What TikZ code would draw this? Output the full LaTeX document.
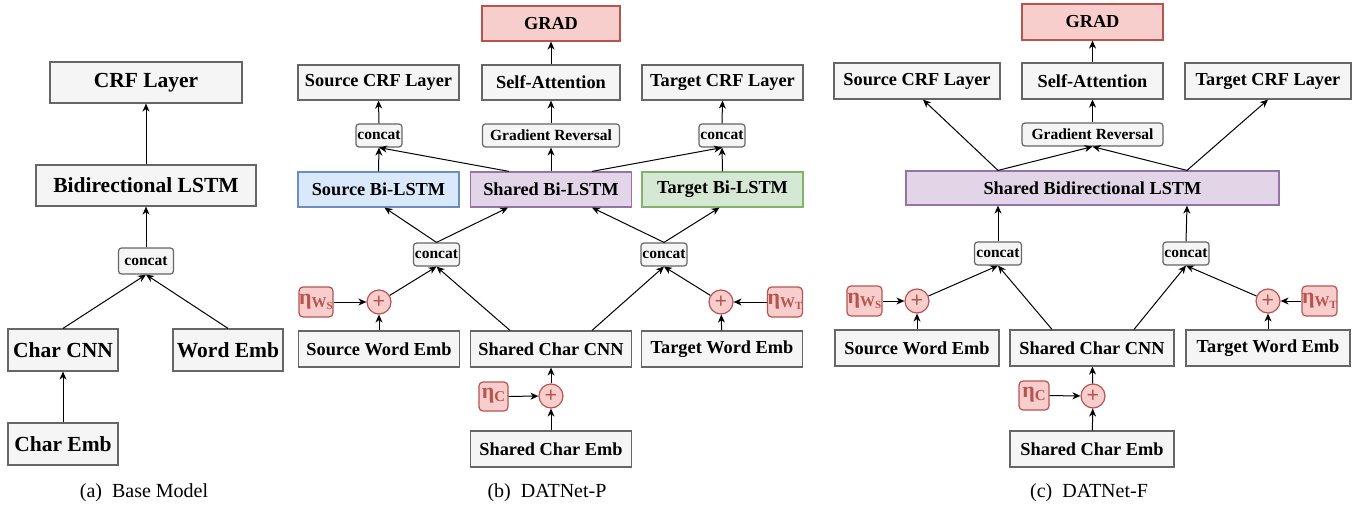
\documentclass[tikz,border=0pt]{standalone}
\usepackage{fontspec}
\setmainfont{Liberation Serif}
\usetikzlibrary{arrows.meta}
\definecolor{boxfill}{HTML}{F5F5F5}
\definecolor{boxline}{HTML}{666666}
\definecolor{redfill}{HTML}{F8CECC}
\definecolor{redline}{HTML}{B85450}
\definecolor{bluefill}{HTML}{DAE8FC}
\definecolor{blueline}{HTML}{6C8EBF}
\definecolor{greenfill}{HTML}{D5E8D4}
\definecolor{greenline}{HTML}{82B366}
\definecolor{purpfill}{HTML}{E1D5E7}
\definecolor{purpline}{HTML}{9673A6}
\newcommand{\bigfont}{\fontsize{21.5}{24}\selectfont\bfseries}
\newcommand{\midfont}{\fontsize{18.3}{21}\selectfont\bfseries}
\newcommand{\smallfont}{\fontsize{15.5}{18}\selectfont\bfseries}
\newcommand{\noisefont}{\fontsize{22}{24}\selectfont\bfseries}
\newcommand{\capfont}{\fontsize{20}{23}\selectfont}
\newcommand{\nz}[2]{η\raisebox{-3pt}{\fontsize{15}{15}\selectfont #1\raisebox{-2.5pt}{\fontsize{11}{11}\selectfont #2}}}

\begin{document}
\begin{tikzpicture}[x=1pt,y=-1pt,
  box/.style={draw=boxline,fill=boxfill,line width=1.2pt,inner sep=0pt,
    minimum height=35pt,minimum width=161pt,font=\midfont},
  bigbox/.style={box,minimum height=41pt,font=\bigfont},
  cat/.style={box,rounded corners=3pt,minimum height=23pt,minimum width=46pt,font=\smallfont},
  redbox/.style={box,draw=redline,fill=redfill},
  noise/.style={redbox,rounded corners=4pt,minimum width=34pt,minimum height=30pt,
    text=redline,font=\noisefont},
  plus/.style={circle,draw=redline,fill=redfill,line width=1.2pt,minimum size=24pt,
    inner sep=0pt,text=redline,font=\noisefont},
  arr/.style={-{Stealth[length=8pt,width=7pt,inset=2.5pt]},line width=1pt},
  captext/.style={font=\capfont}]
  \useasboundingbox (0,0) rectangle (1360,508);

  % (a) base model
  \node[bigbox,minimum width=192pt] (acrf) at (146,82.5) {CRF Layer};
  \node[bigbox,minimum width=220pt] (albl) at (146,185.5) {Bidirectional LSTM};
  \node[cat,minimum width=55pt,minimum height=26pt] (acat) at (146,261) {concat};
  \node[bigbox,minimum width=110pt,minimum height=42pt] (acnn) at (63,350) {Char CNN};
  \node[bigbox,minimum width=110pt,minimum height=42pt] (aword) at (228,350) {Word Emb};
  \node[bigbox,minimum width=110pt,minimum height=42pt] (achar) at (63,444) {Char Emb};
  \node[captext] (acap) at (144,493) {(a)\hspace{0.5em}Base Model};
  \draw[arr] (achar) -- (acnn);
  \draw[arr] (acnn.north) -- (acat.south);
  \draw[arr] (aword.north) -- (acat.south);
  \draw[arr] (acat) -- (albl);
  \draw[arr] (albl) -- (acrf);

  % (b) DATNet-P
  \node[redbox,minimum width=138pt] (bgrad) at (551,23.5) {GRAD};
  \node[box] (bscrf) at (378.5,82.5) {Source CRF Layer};
  \node[box,minimum width=138pt] (batt) at (551,82.5) {Self-Attention};
  \node[box] (btcrf) at (722.5,82.5) {Target CRF Layer};
  \node[cat] (bscat) at (379,135.5) {concat};
  \node[cat,minimum width=137pt] (bgr) at (551,135.5) {Gradient Reversal};
  \node[cat] (btcat) at (722,135.5) {concat};
  \node[box,draw=blueline,fill=bluefill] (bsbl) at (378.5,189.5) {Source Bi-LSTM};
  \node[box,draw=purpline,fill=purpfill] (bshbl) at (551,189.5) {Shared Bi-LSTM};
  \node[box,draw=greenline,fill=greenfill] (btbl) at (722.5,189.5) {Target Bi-LSTM};
  \node[cat] (blcat) at (436.5,254.5) {concat};
  \node[cat] (brcat) at (664,254.5) {concat};
  \node[noise] (bnws) at (316,302) {\nz{W}{S}};
  \node[plus] (bpl) at (379,302) {+};
  \node[plus] (bpr) at (721,302) {+};
  \node[noise] (bnwt) at (785,302) {\nz{W}{T}};
  \node[box,minimum height=36pt] (bsw) at (379,349) {Source Word Emb};
  \node[box,minimum height=36pt] (bcnn) at (551,349) {Shared Char CNN};
  \node[box,minimum height=36pt] (btw) at (722,349) {Target Word Emb};
  \node[noise,minimum width=29pt,minimum height=29pt] (bnc) at (493.5,396.5) {\nz{C}{}};
  \node[plus] (bpm) at (551,396) {+};
  \node[box,minimum height=36pt] (bchar) at (551,449) {Shared Char Emb};
  \node[captext] (bcap) at (547,493) {(b)\hspace{0.5em}DATNet-P};
  \draw[arr] (bchar) -- (bpm);
  \draw[arr] (bpm) -- (bcnn);
  \draw[arr] (bnc) -- (bpm);
  \draw[arr] (bsw) -- (bpl);
  \draw[arr] (bnws) -- (bpl);
  \draw[arr] (btw) -- (bpr);
  \draw[arr] (bnwt) -- (bpr);
  \draw[arr] (bpl) -- (blcat.south);
  \draw[arr] ([xshift=-41pt]bcnn.north) -- (blcat.south);
  \draw[arr] ([xshift=41pt]bcnn.north) -- (brcat.south);
  \draw[arr] (bpr) -- (brcat.south);
  \draw[arr] (blcat.north) -- ([xshift=6pt]bsbl.south);
  \draw[arr] (blcat.north) -- ([xshift=-43pt]bshbl.south);
  \draw[arr] (brcat.north) -- ([xshift=41pt]bshbl.south);
  \draw[arr] (brcat.north) -- ([xshift=-3pt]btbl.south);
  \draw[arr] (bsbl.north) -- (bscat.south);
  \draw[arr] ([xshift=-42pt]bshbl.north) -- (bscat.south);
  \draw[arr] (bshbl) -- (bgr);
  \draw[arr] ([xshift=41pt]bshbl.north) -- (btcat.south);
  \draw[arr] (btbl.north) -- (btcat.south);
  \draw[arr] (bscat.north) -- (bscrf.south);
  \draw[arr] (bgr) -- (batt);
  \draw[arr] (btcat.north) -- (btcrf.south);
  \draw[arr] (batt) -- (bgrad);

  % (c) DATNet-F
  \node[redbox,minimum width=141pt,minimum height=36pt] (cgrad) at (1092.5,22) {GRAD};
  \node[box,minimum width=166pt,minimum height=36pt] (cscrf) at (917,81) {Source CRF Layer};
  \node[box,minimum width=141pt,minimum height=36pt] (catt) at (1092.5,81) {Self-Attention};
  \node[box,minimum width=166pt,minimum height=36pt] (ctcrf) at (1268,81) {Target CRF Layer};
  \node[cat,minimum width=141pt] (cgr) at (1092.5,134.5) {Gradient Reversal};
  \node[box,draw=purpline,fill=purpfill,minimum width=373pt,minimum height=34pt] (clstm) at (1092.5,188) {Shared Bidirectional LSTM};
  \node[cat,minimum width=47pt] (clcat) at (998,253.5) {concat};
  \node[cat] (crcat) at (1186,253.5) {concat};
  \node[noise,minimum width=35pt] (cnws) at (864.5,301) {\nz{W}{S}};
  \node[plus] (cpl) at (917,301) {+};
  \node[plus] (cpr) at (1268,301) {+};
  \node[noise,minimum width=35pt] (cnwt) at (1319.5,301) {\nz{W}{T}};
  \node[box,minimum width=164pt,minimum height=36pt] (csw) at (917,348) {Source Word Emb};
  \node[box,minimum width=164pt,minimum height=36pt] (ccnn) at (1092,348) {Shared Char CNN};
  \node[box,minimum width=164pt,minimum height=36pt] (ctw) at (1268,348) {Target Word Emb};
  \node[noise,minimum width=30pt,minimum height=29pt] (cnc) at (1034,395.5) {\nz{C}{}};
  \node[plus] (cpm) at (1093,396) {+};
  \node[box,minimum width=164pt,minimum height=36pt] (cchar) at (1092,449) {Shared Char Emb};
  \node[captext] (ccap) at (1089,493) {(c)\hspace{0.5em}DATNet-F};
  \draw[arr] (cchar) -- (cpm);
  \draw[arr] (cpm) -- (ccnn);
  \draw[arr] (cnc) -- (cpm);
  \draw[arr] (csw) -- (cpl);
  \draw[arr] (cnws) -- (cpl);
  \draw[arr] (ctw) -- (cpr);
  \draw[arr] (cnwt) -- (cpr);
  \draw[arr] (cpl) -- (clcat.south);
  \draw[arr] ([xshift=-40pt]ccnn.north) -- (clcat.south);
  \draw[arr] ([xshift=42pt]ccnn.north) -- (crcat.south);
  \draw[arr] (cpr) -- (crcat.south);
  \draw[arr] (clcat.north) -- ([xshift=-94.5pt]clstm.south);
  \draw[arr] (crcat.north) -- ([xshift=94.5pt]clstm.south);
  \draw[arr] ([xshift=-94.5pt]clstm.north) -- ([xshift=6pt]cscrf.south);
  \draw[arr] ([xshift=-94.5pt]clstm.north) -- (cgr.south);
  \draw[arr] ([xshift=94.5pt]clstm.north) -- (cgr.south);
  \draw[arr] ([xshift=94.5pt]clstm.north) -- (ctcrf.south);
  \draw[arr] (cgr) -- (catt);
  \draw[arr] (catt) -- (cgrad);
\end{tikzpicture}
\end{document}
